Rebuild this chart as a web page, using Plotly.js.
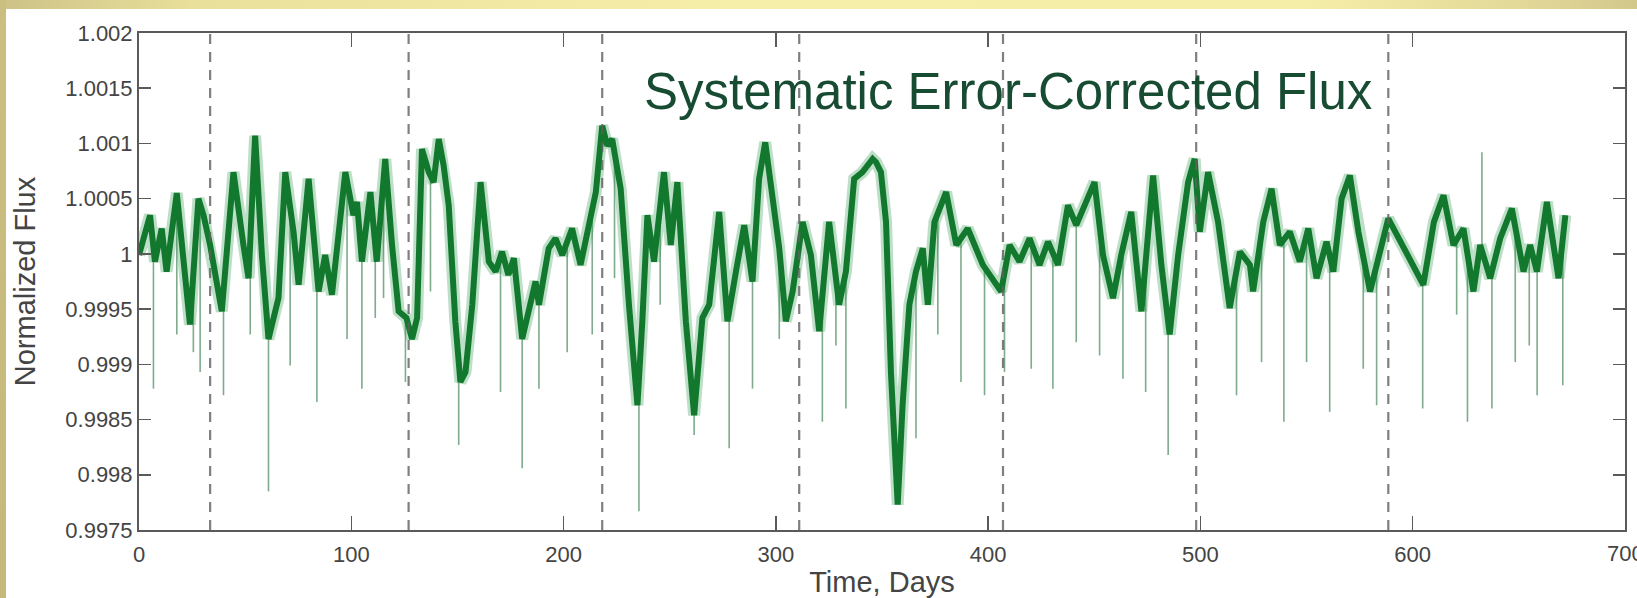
<!DOCTYPE html>
<html>
<head>
<meta charset="utf-8">
<script src="https://cdn.plot.ly/plotly-3.0.1.min.js"></script>
<style>
  html, body { margin: 0; padding: 0; background: #ffffff; overflow: hidden; }
  #bandTop { position: absolute; left: 0; top: 0; width: 1637px; height: 9px;
    background: linear-gradient(to right, #cdc287 0%, #e9e09b 12%, #f6efaa 45%, #f5eea8 80%, #e2d898 93%, #d3c88c 100%); }
  #bandLeft { position: absolute; left: 0; top: 0; width: 6px; height: 598px;
    background: linear-gradient(to bottom, #cabe80 0%, #c4b87a 100%); }
  #chart { position: absolute; left: 0; top: 0; width: 1637px; height: 598px; }
</style>
</head>
<body>
<div id="bandTop"></div>
<div id="bandLeft"></div>
<div id="chart"></div>
<script>
// Time in days and normalized flux (main band centre)
const days = [0, 5.2, 7.5, 10.7, 13, 17.8, 24, 28, 30.4, 33.5, 39, 44.5, 49.2, 51.6, 54.7, 57.9, 61, 65.7, 68.9, 72.8,
  75.2, 79.9, 84.6, 87.7, 90.9, 97.2, 101, 102.7, 105, 109, 112, 116, 119.2, 122.3, 126, 128.6, 131, 133.3, 136.5, 138.8,
  141.2, 143.5, 145.9, 149, 151.4, 153.8, 157, 160.9, 164.8, 168, 171, 174, 176.6,
  180.5, 186.8, 188.4, 193, 196.2, 199.4, 204, 208, 212.8, 215.2, 218.2, 220.6, 222.9, 226.9, 230.8, 234.8, 237.1, 239.5,
  242.6, 247.3, 250.5, 253.6, 257.6, 261.5, 265.4, 268.6, 273.3, 277.2, 281.2, 285.1, 289, 292.1, 295, 298.4, 301.6,
  304.7, 307.9, 312.6, 316.5, 320.4, 325.1, 329.8, 333, 336.9, 340.8, 345.6, 347.2, 349.5,
  351.9, 354.2, 357.4, 359.7, 362.9, 366, 369.2, 371.6, 374.7, 380.2, 385, 390.4, 397.5, 406.1, 410.1, 414.8, 419.5,
  424.2, 428.2, 432.9, 437.6, 441.5, 445.4, 450.1, 454.1, 458.8, 462.7, 467.4, 472.2, 477.7, 481.6, 485.5, 489.5, 494.2,
  497.3, 499.7, 503.6, 508.3, 513.8, 518.6, 523.3,
  524.8, 529.6, 533.5, 537.4, 542.1, 546.8, 550.8, 554.7, 559.4, 562.6, 566.5, 570.4, 574.4, 579.9, 584.6, 588.5,
  605, 610, 614.5, 619.2, 623.9, 628.6, 631.8, 636.5, 641.2, 646.7, 652.2, 655.3, 658.5, 663.2, 668.7, 671.9];
const flux = [0.99999, 1.00035, 0.99993, 1.00023, 0.99984, 1.00055, 0.99936, 1.00050, 1.00035, 1.00008, 0.99948, 1.00074,
  1.00008, 0.99978, 1.00107, 0.99999, 0.99923, 0.99960, 1.00074, 1.00020,
  0.99972, 1.00068, 0.99966, 0.99999, 0.99963, 1.00074, 1.00035, 1.00047, 0.99993, 1.00056, 0.99993, 1.00086, 1.00008,
  0.99948, 0.99942, 0.99923, 0.99942, 1.00095, 1.00074, 1.00065,
  1.00104, 1.00080, 1.00044, 0.99939, 0.99884, 0.99893, 0.99954, 1.00065, 0.99993, 0.99984, 1.00002, 0.99981, 0.99996,
  0.99923, 0.99975, 0.99954, 1.00005, 1.00014, 0.99999, 1.00023, 0.99990, 1.00035, 1.00056, 1.00116, 1.00098, 1.00104,
  1.00059, 0.99954, 0.99863, 0.99939, 1.00035,
  0.99993, 1.00074, 1.00008, 1.00065, 0.99939, 0.99854, 0.99942, 0.99954, 1.00038, 0.99939, 0.99984, 1.00026, 0.99975,
  1.00068, 1.00101, 1.00056, 1.00005,
  0.99939, 0.99966, 1.00029, 0.99999, 0.99930, 1.00029, 0.99954, 0.99984, 1.00068, 1.00074, 1.00086, 1.00083, 1.00074,
  1.00029, 0.99893, 0.99773, 0.99863, 0.99954, 0.99984, 1.00005, 0.99954, 1.00029, 1.00056, 1.00008, 1.00023, 0.99990,
  0.99966, 1.00008, 0.99993, 1.00014,
  0.99990, 1.00011, 0.99990, 1.00044, 1.00026, 1.00044, 1.00065, 0.99999, 0.99960, 0.99999, 1.00038, 0.99948, 1.00071,
  0.99990, 0.99927, 0.99999, 1.00065,
  1.00086, 1.00020, 1.00074, 1.00029, 0.99951, 1.00002, 0.99990,
  0.99966, 1.00029, 1.00059, 1.00008, 1.00020, 0.99993, 1.00023, 0.99978, 1.00011, 0.99984, 1.00050, 1.00071, 1.00020,
  0.99966, 1.00002, 1.00032,
  0.99972, 1.00029, 1.00053, 1.00008, 1.00023, 0.99966, 1.00008, 0.99978, 1.00014, 1.00041, 0.99984, 1.00008, 0.99984,
  1.00047, 0.99978, 1.00035];

// Short dips (thin outlier spikes): day and lowest flux
const spikeDays = [6.8, 17.8, 25.6, 28.8, 39.8, 52.4, 61, 71.2, 83.8, 98, 105, 111.3, 115.2, 125.5, 137.3, 150.6, 170.3,
  180.5, 188.4, 201.7, 213.5, 224, 235.5, 245.5, 261.5, 278, 289, 301.6, 321.9, 328.3, 333,
  366, 376.3, 387.2, 398.3, 407.7, 420.3, 430.5, 441.5, 452.5, 463.5, 474.2, 484.8, 517,
  528.8, 539.3, 550, 560.9, 576.7, 583, 604.7, 620.7, 625.8, 637.3, 648.3, 654.9, 658.6, 670.7, 632.6];
const spikeFlux = [0.99878, 0.99927, 0.99911, 0.99893, 0.99872, 0.99927, 0.99785, 0.99899, 0.99866, 0.99923, 0.99878,
  0.99942, 0.99960, 0.99884, 0.99966, 0.99827, 0.99875,
  0.99806, 0.99878, 0.99911, 0.99927, 0.99978, 0.99767, 0.99954, 0.99836, 0.99824, 0.99878, 0.99923, 0.99848, 0.99917, 0.99860,
  0.99833, 0.99927, 0.99884, 0.99872, 0.99893, 0.99896, 0.99878, 0.99920, 0.99908, 0.99887, 0.99875, 0.99818, 0.99872,
  0.99902, 0.99848, 0.99902, 0.99857, 0.99896, 0.99863, 0.99860, 0.99945, 0.99848, 0.99860, 0.99902, 0.99917, 0.99872, 0.99881, 1.00092];

// Quarter boundaries (dashed lines)
const quarterDays = [33.5, 127, 218.2, 311, 407, 498, 588.5];

const xTicks = [0, 100, 200, 300, 400, 500, 600, 700];
const xTickText = ['0', '100', '200', '300', '400', '500', '600', '700'];
const yTicks = [0.9975, 0.998, 0.9985, 0.999, 0.9995, 1, 1.0005, 1.001, 1.0015, 1.002];
const yTickText = ['0.9975', '0.998', '0.9985', '0.999', '0.9995', '1', '1.0005', '1.001', '1.0015', '1.002'];

const titleText = 'Systematic Error-Corrected Flux';
const xTitle = 'Time, Days';
const yTitle = 'Normalized Flux';

// curve value at a given day (anchors each spike on the band)
function curveAt(d) {
  for (let i = 0; i < days.length - 1; i++) {
    if (d >= days[i] && d <= days[i + 1]) {
      const t = (d - days[i]) / (days[i + 1] - days[i]);
      return flux[i] + t * (flux[i + 1] - flux[i]);
    }
  }
  return flux[flux.length - 1];
}
const sx = [], sy = [];
spikeDays.forEach((d, i) => { sx.push(d, d, null); sy.push(curveAt(d), spikeFlux[i], null); });

const FONT = '"Liberation Sans", Arial, Helvetica, sans-serif';
const TICKFONT = { family: FONT, size: 22, color: '#444' };

const traces = [
  { x: sx, y: sy, type: 'scatter', mode: 'lines', line: { color: 'rgba(70,135,90,0.7)', width: 1.6 }, hoverinfo: 'skip' },
  { x: days, y: flux, type: 'scatter', mode: 'lines', line: { color: 'rgba(40,150,70,0.3)', width: 12 }, hoverinfo: 'skip' },
  { x: days, y: flux, type: 'scatter', mode: 'lines', line: { color: '#12782d', width: 6 } }
];

const shapes = quarterDays.map(d => ({
  type: 'line', xref: 'x', yref: 'paper', x0: d, x1: d, y0: 0, y1: 1,
  line: { color: 'rgba(95,95,95,0.8)', width: 2.2, dash: '10px,8px' }, layer: 'above'
}));

const axisCommon = {
  showgrid: false, zeroline: false, showline: true, mirror: 'allticks',
  linecolor: '#5a5a5a', linewidth: 2, ticks: 'inside', tickcolor: '#5a5a5a', tickwidth: 1.5,
  tickfont: TICKFONT, automargin: false
};

const layout = {
  width: 1637, height: 598,
  margin: { l: 139, r: 12, t: 33, b: 68 },
  paper_bgcolor: 'rgba(0,0,0,0)', plot_bgcolor: '#ffffff',
  showlegend: false,
  xaxis: Object.assign({}, axisCommon, {
    range: [0, 700], tickvals: xTicks, ticktext: xTickText, ticklen: 14, ticklabelstandoff: 4,
    title: { text: xTitle, font: { family: FONT, size: 29, color: '#444' }, standoff: 22 }
  }),
  yaxis: Object.assign({}, axisCommon, {
    range: [0.9975, 1.002], tickvals: yTicks, ticktext: yTickText, ticklen: 12,
    title: { text: yTitle, font: { family: FONT, size: 29, color: '#444' }, standoff: 21 }
  }),
  shapes: shapes,
  annotations: [{
    text: titleText, xref: 'paper', yref: 'paper', x: 0.3385, y: 0.882, xanchor: 'left', yanchor: 'middle',
    showarrow: false, font: { family: FONT, size: 51, color: '#174b32' }
  }, {
    // last x tick label, cut by the right border as in the original
    text: xTickText[xTickText.length - 1], xref: 'x', yref: 'paper', x: xTicks[xTicks.length - 1], y: 0,
    xanchor: 'center', yanchor: 'middle', yshift: -23, showarrow: false, font: TICKFONT
  }]
};

Plotly.newPlot('chart', traces, layout, { displayModeBar: false, staticPlot: true });
</script>
</body>
</html>
